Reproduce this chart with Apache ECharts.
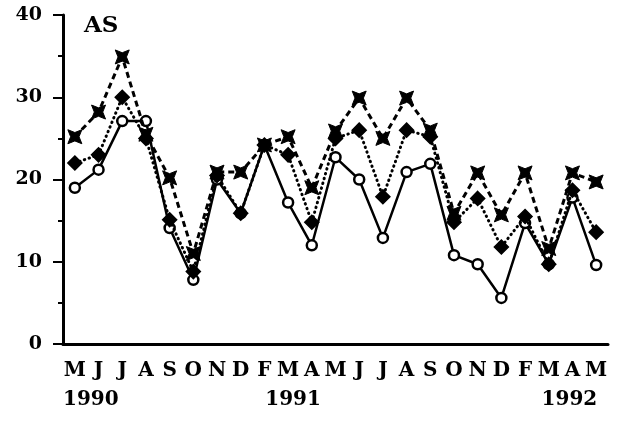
<!DOCTYPE html>
<html>
<head>
<meta charset="utf-8">
<script src="https://cdn.jsdelivr.net/npm/echarts@6/dist/echarts.min.js"></script>
<style>html,body{margin:0;padding:0;background:#fff}#c{width:620px;height:425px}</style>
</head>
<body>
<div id="c"></div>
<script>
const months = ['M','J','J','A','S','O','N','D','F','M','A','M','J','J','A','S','O','N','D','F','M','A','M'];
const yearLabels = {0:'1990', 9:'1991', 21:'1992'};
const yTicks = [0, 10, 20, 30, 40];
const solidOpen = [19.0, 21.2, 27.1, 27.1, 14.1, 7.8, 20.0, 15.9, 24.2, 17.2, 12.0, 22.7, 20.0, 12.9, 20.9, 21.9, 10.8, 9.7, 5.6, 14.7, 9.7, 17.8, 9.6];
const dottedFilled = [22.0, 23.0, 30.0, 25.0, 15.1, 8.8, 20.5, 15.9, 24.2, 23.0, 14.8, 25.0, 26.0, 17.9, 26.0, 25.2, 14.8, 17.7, 11.8, 15.5, 9.7, 18.7, 13.6];
const dashedCross = [25.2, 28.2, 34.9, 25.5, 20.2, 11.0, 20.9, 20.9, 24.2, 25.2, 19.0, 25.9, 29.9, 25.0, 29.9, 26.0, 15.9, 20.8, 15.7, 20.8, 11.6, 20.8, 19.7];

const font = 'DejaVu Serif';
const crossPath = 'path://M0,0 L5,2 L10,0 L8,5 L10,10 L5,8 L0,10 L2,5 Z';

const chart = echarts.init(document.getElementById('c'), null, {renderer:'canvas'});
chart.setOption({
  backgroundColor: '#fff',
  animation: false,
  title: {
    text: 'AS', left: 79, top: 10,
    textStyle: {fontFamily: font, fontWeight: 'bold', fontSize: 23, color: '#000'}
  },
  grid: {left: 63, right: 12, top: 15, bottom: 81},
  xAxis: [{
    type: 'category', data: months, position: 'bottom',
    axisLine: {lineStyle: {color: '#000', width: 3}},
    axisTick: {alignWithLabel: true, length: 8, lineStyle: {color: '#000', width: 2}},
    axisLabel: {
      interval: 0, margin: 12, color: '#000',
      fontFamily: font, fontWeight: 'bold', fontSize: 20, lineHeight: 29,
      formatter: function (v, i) {
        if (i === 0) return v + '\n{y0|' + yearLabels[0] + '}';
        if (i === 9) return v + '\n{y1|' + yearLabels[9] + '}';
        if (i === 21) return v + '\n{y2|' + yearLabels[21] + '}';
        return v;
      },
      rich: {
        y0: {fontFamily: font, fontWeight: 'bold', fontSize: 20, lineHeight: 29, color: '#000', padding: [0,0,0,32]},
        y1: {fontFamily: font, fontWeight: 'bold', fontSize: 20, lineHeight: 29, color: '#000', padding: [0,0,0,10]},
        y2: {fontFamily: font, fontWeight: 'bold', fontSize: 20, lineHeight: 29, color: '#000', padding: [0,6,0,0]}
      }
    },
    splitLine: {show: false}
  }, {
    type: 'category', data: months, position: 'bottom',
    axisLine: {show: false},
    axisTick: {length: 4, lineStyle: {color: '#000', width: 2}},
    axisLabel: {show: false},
    splitLine: {show: false}
  }],
  yAxis: {
    type: 'value', min: yTicks[0], max: yTicks[yTicks.length-1], interval: 10,
    axisLine: {show: true, lineStyle: {color: '#000', width: 3}},
    axisTick: {show: true, length: 10, lineStyle: {color: '#000', width: 2}},
    minorTick: {show: true, splitNumber: 2, length: 5, lineStyle: {color: '#000', width: 2}},
    axisLabel: {margin: 21, color: '#000', fontFamily: font, fontWeight: 'bold', fontSize: 19},
    splitLine: {show: false}
  },
  series: [{
    type: 'line', data: solidOpen, xAxisIndex: 0,
    symbol: 'circle', symbolSize: 10, showAllSymbol: true,
    itemStyle: {color: '#fff', borderColor: '#000', borderWidth: 2.5},
    lineStyle: {color: '#000', width: 2.5}, z: 2
  }, {
    type: 'line', data: dottedFilled, xAxisIndex: 0,
    symbol: 'diamond', symbolSize: 14, showAllSymbol: true,
    itemStyle: {color: '#000', borderColor: '#000', borderWidth: 1.5},
    lineStyle: {color: '#000', width: 3, type: [0.5, 4.5], cap: 'round'}, z: 3
  }, {
    type: 'line', data: dashedCross, xAxisIndex: 0,
    symbol: crossPath, symbolSize: 14, showAllSymbol: true,
    itemStyle: {color: '#000', borderColor: '#000', borderWidth: 1},
    lineStyle: {color: '#000', width: 3, type: [6, 4]}, z: 4
  }]
});
</script>
</body>
</html>
